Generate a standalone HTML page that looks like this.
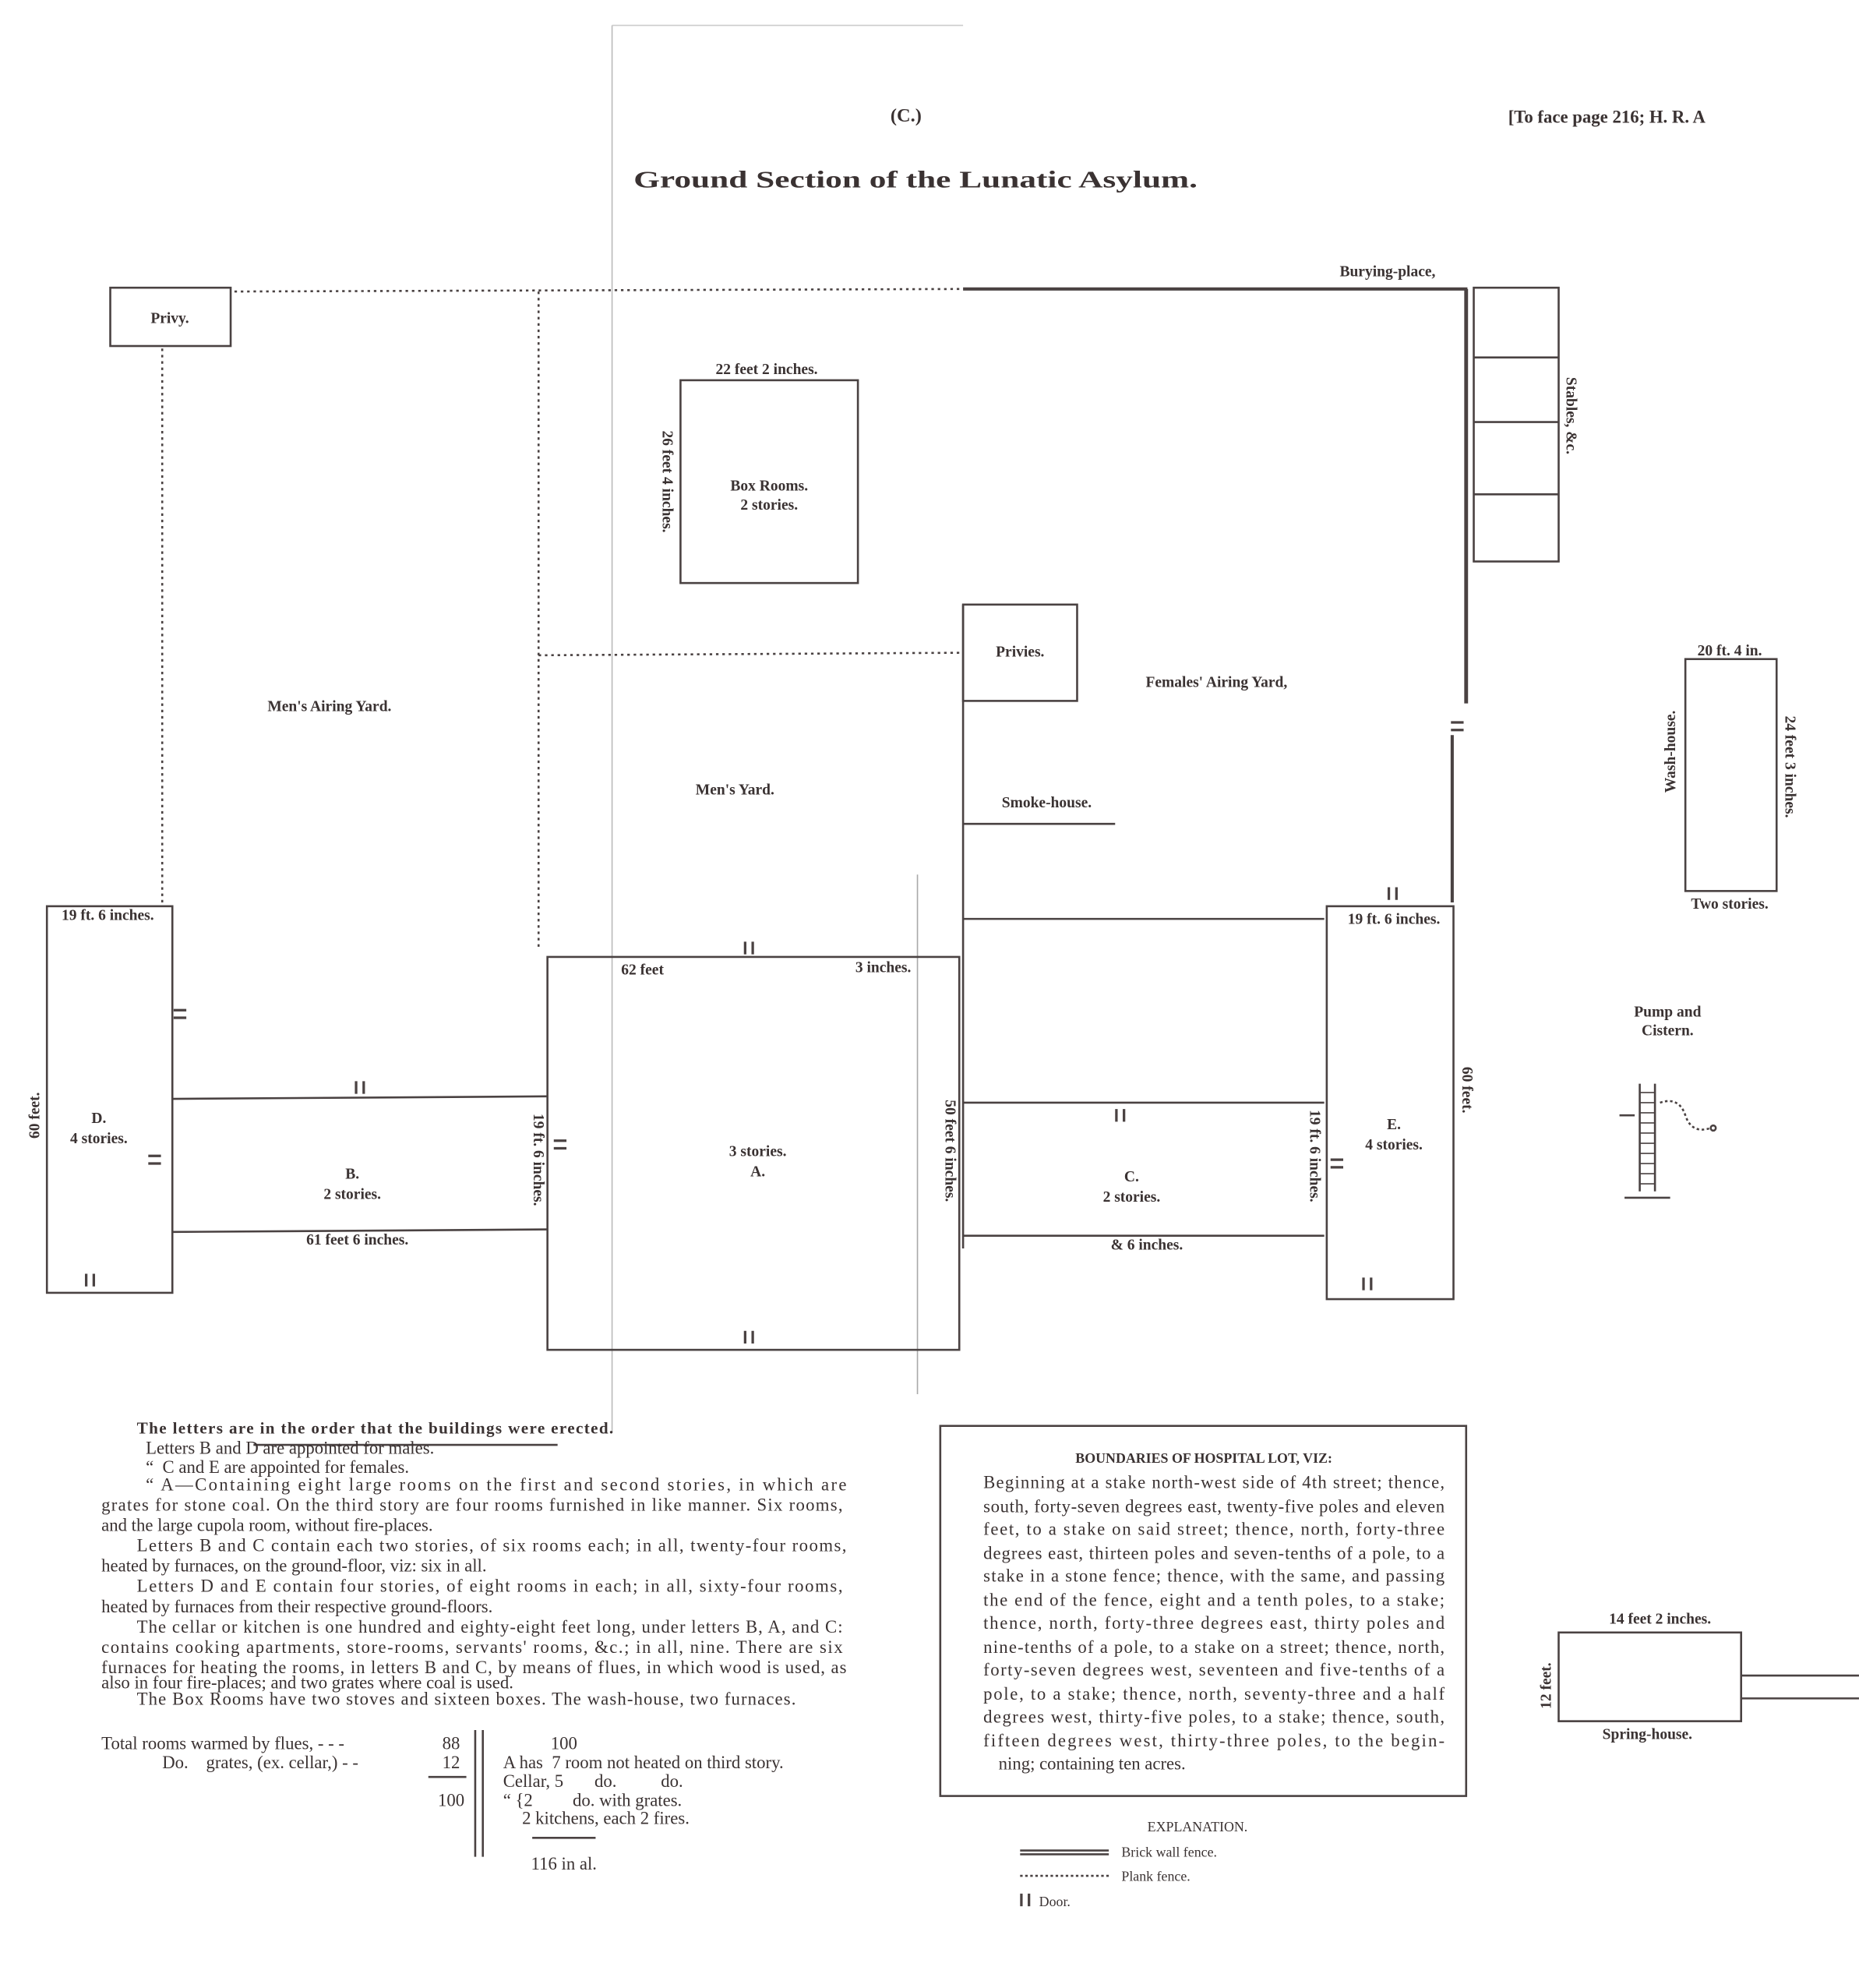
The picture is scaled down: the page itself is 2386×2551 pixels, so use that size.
<!DOCTYPE html>
<html><head><meta charset="utf-8"><style>
html,body{margin:0;padding:0;background:#fff;}
svg{display:block;}
text{font-family:"Liberation Serif",serif;fill:#3a3232;}
.b{font-weight:bold;font-size:12px;}
.p{font-size:14px;}
</style></head><body>
<svg width="2386" height="2551" viewBox="0 0 1467 1568.5" xmlns="http://www.w3.org/2000/svg">
<rect width="1467" height="1569" fill="#fff"/>
<g stroke="#4a4242" fill="none" stroke-width="1.6">
<line x1="483" y1="20" x2="483" y2="1130" stroke="#bbb" stroke-width="1"/>
<line x1="483" y1="20" x2="760" y2="20" stroke="#ccc" stroke-width="1"/>
<line x1="724" y1="690" x2="724" y2="1100" stroke="#aaa" stroke-width="1"/>
<line x1="185" y1="230" x2="760" y2="228" stroke-dasharray="2,3"/>
<line x1="760" y1="228" x2="1158" y2="228" stroke-width="2.5"/>
<rect x="87" y="227" width="95" height="46"/>
<line x1="128" y1="275" x2="128" y2="715" stroke-dasharray="2,3"/>
<line x1="425" y1="230" x2="425" y2="750" stroke-dasharray="2,3"/>
<line x1="425" y1="517" x2="760" y2="515" stroke-dasharray="2,3"/>
<rect x="537" y="300" width="140" height="160"/>
<line x1="1157" y1="228" x2="1157" y2="555" stroke-width="3"/>
<line x1="1146" y1="580" x2="1146" y2="712" stroke-width="2.5"/>
<rect x="1163" y="227" width="67" height="216"/>
<line x1="1163" y1="282" x2="1230" y2="282"/>
<line x1="1163" y1="333" x2="1230" y2="333"/>
<line x1="1163" y1="390" x2="1230" y2="390"/>
<rect x="760" y="477" width="90" height="76"/>
<line x1="760" y1="650" x2="880" y2="650"/>
<line x1="760" y1="725" x2="1045" y2="725"/>
<line x1="760" y1="477" x2="760" y2="985"/>
<rect x="432" y="755" width="325" height="310"/>
<rect x="37" y="715" width="99" height="305"/>
<line x1="136" y1="867" x2="432" y2="865"/>
<line x1="136" y1="972" x2="432" y2="970"/>
<line x1="760" y1="870" x2="1045" y2="870"/>
<line x1="760" y1="975" x2="1045" y2="975"/>
<rect x="1047" y="715" width="100" height="310"/>
<rect x="1330" y="520" width="72" height="183"/>
<rect x="1230" y="1288" width="144" height="70"/>
<line x1="1374" y1="1322" x2="1467" y2="1322"/>
<line x1="1374" y1="1340" x2="1467" y2="1340"/>
<rect x="742" y="1125" width="415" height="292"/>
<line x1="1294" y1="855" x2="1294" y2="940"/>
<line x1="1306" y1="855" x2="1306" y2="940"/>
<path d="M1294 862h12M1294 870h12M1294 878h12M1294 886h12M1294 894h12M1294 902h12M1294 910h12M1294 918h12M1294 926h12M1294 934h12" stroke-width="1"/>
<line x1="1282" y1="945" x2="1318" y2="945"/>
<path d="M1310 870 q15 -5 20 10 t20 10" stroke-dasharray="2,2"/>
<circle cx="1352" cy="890" r="2"/>
<line x1="1278" y1="880" x2="1290" y2="880"/>
<line x1="338" y1="1402" x2="368" y2="1402"/>
<line x1="375" y1="1365" x2="375" y2="1465"/>
<line x1="381" y1="1365" x2="381" y2="1465"/>
<line x1="420" y1="1450" x2="470" y2="1450"/>
<line x1="200" y1="1140" x2="440" y2="1140"/>
<line x1="805" y1="1460" x2="875" y2="1460"/>
<line x1="805" y1="1463" x2="875" y2="1463"/>
<line x1="805" y1="1480" x2="875" y2="1480" stroke-dasharray="2,2"/>
</g>
<g stroke="#4a4242" stroke-width="2">
<path d="M588 743v10M594 743v10M588 1050v10M594 1050v10M281 853v10M287 853v10M68 1005v10M74 1005v10M1076 1008v10M1082 1008v10M1096 700v10M1102 700v10M881 875v10M887 875v10M806 1494v10M812 1494v10"/>
<path d="M137 797h10M137 803h10M117 912h10M117 918h10M437 900h10M437 906h10M1050 915h10M1050 921h10M1145 570h10M1145 576h10"/>
</g>
<g class="b">
<text x="715" y="96" text-anchor="middle" font-size="15">(C.)</text>
<text x="1268" y="97" text-anchor="middle" font-size="14">[To face page 216; H. R. A</text>
<text x="500" y="148" font-size="19" textLength="445" lengthAdjust="spacingAndGlyphs">Ground Section of the Lunatic Asylum.</text>
<text x="1095" y="218" text-anchor="middle">Burying-place,</text>
<text x="134" y="255" text-anchor="middle">Privy.</text>
<text x="605" y="295" text-anchor="middle">22 feet 2 inches.</text>
<text transform="translate(523,380) rotate(90)" text-anchor="middle">26 feet 4 inches.</text>
<text x="607" y="387" text-anchor="middle">Box Rooms.</text>
<text x="607" y="402" text-anchor="middle">2 stories.</text>
<text transform="translate(1236,328) rotate(90)" text-anchor="middle">Stables, &amp;c.</text>
<text x="805" y="518" text-anchor="middle">Privies.</text>
<text x="960" y="542" text-anchor="middle">Females' Airing Yard,</text>
<text x="260" y="561" text-anchor="middle">Men's Airing Yard.</text>
<text x="580" y="627" text-anchor="middle">Men's Yard.</text>
<text x="826" y="637" text-anchor="middle">Smoke-house.</text>
<text x="85" y="726" text-anchor="middle">19 ft. 6 inches.</text>
<text x="507" y="769" text-anchor="middle">62 feet</text>
<text x="697" y="767" text-anchor="middle">3 inches.</text>
<text transform="translate(746,908) rotate(90)" text-anchor="middle">50 feet 6 inches.</text>
<text transform="translate(421,915) rotate(90)" text-anchor="middle">19 ft. 6 inches.</text>
<text transform="translate(1034,912) rotate(90)" text-anchor="middle">19 ft. 6 inches.</text>
<text transform="translate(1154,860) rotate(90)" text-anchor="middle">60 feet.</text>
<text transform="translate(31,880) rotate(-90)" text-anchor="middle">60 feet.</text>
<text x="598" y="912" text-anchor="middle">3 stories.</text>
<text x="598" y="928" text-anchor="middle">A.</text>
<text x="78" y="886" text-anchor="middle">D.</text>
<text x="78" y="902" text-anchor="middle">4 stories.</text>
<text x="278" y="930" text-anchor="middle">B.</text>
<text x="278" y="946" text-anchor="middle">2 stories.</text>
<text x="282" y="982" text-anchor="middle">61 feet 6 inches.</text>
<text x="893" y="932" text-anchor="middle">C.</text>
<text x="893" y="948" text-anchor="middle">2 stories.</text>
<text x="905" y="986" text-anchor="middle">&amp; 6 inches.</text>
<text x="1100" y="729" text-anchor="middle">19 ft. 6 inches.</text>
<text x="1100" y="891" text-anchor="middle">E.</text>
<text x="1100" y="907" text-anchor="middle">4 stories.</text>
<text x="1365" y="517" text-anchor="middle">20 ft. 4 in.</text>
<text transform="translate(1409,605) rotate(90)" text-anchor="middle">24 feet 3 inches.</text>
<text transform="translate(1322,593) rotate(-90)" text-anchor="middle">Wash-house.</text>
<text x="1365" y="717" text-anchor="middle">Two stories.</text>
<text x="1316" y="802" text-anchor="middle">Pump and</text>
<text x="1316" y="817" text-anchor="middle">Cistern.</text>
<text x="1310" y="1281" text-anchor="middle">14 feet 2 inches.</text>
<text transform="translate(1224,1330) rotate(-90)" text-anchor="middle">12 feet.</text>
<text x="1300" y="1372" text-anchor="middle">Spring-house.</text>
<text x="950" y="1154" text-anchor="middle" font-size="11">BOUNDARIES OF HOSPITAL LOT, VIZ:</text>
<text x="108" y="1131" font-size="13" textLength="376" lengthAdjust="spacing">The letters are in the order that the buildings were erected.</text>
</g>
<g class="p">
<text x="115" y="1147">Letters B and D are appointed for males.</text>
<text x="115" y="1162">“ &#160;C and E are appointed for females.</text>
<text x="115" y="1176" textLength="553" lengthAdjust="spacing">“ A—Containing eight large rooms on the first and second stories, in which are</text>
<text x="80" y="1192" textLength="585" lengthAdjust="spacing">grates for stone coal. On the third story are four rooms furnished in like manner. Six rooms,</text>
<text x="80" y="1208">and the large cupola room, without fire-places.</text>
<text x="108" y="1224" textLength="560" lengthAdjust="spacing">Letters B and C contain each two stories, of six rooms each; in all, twenty-four rooms,</text>
<text x="80" y="1240">heated by furnaces, on the ground-floor, viz: six in all.</text>
<text x="108" y="1256" textLength="557" lengthAdjust="spacing">Letters D and E contain four stories, of eight rooms in each; in all, sixty-four rooms,</text>
<text x="80" y="1272">heated by furnaces from their respective ground-floors.</text>
<text x="108" y="1288" textLength="557" lengthAdjust="spacing">The cellar or kitchen is one hundred and eighty-eight feet long, under letters B, A, and C:</text>
<text x="80" y="1304" textLength="585" lengthAdjust="spacing">contains cooking apartments, store-rooms, servants' rooms, &amp;c.; in all, nine. There are six</text>
<text x="80" y="1320" textLength="588" lengthAdjust="spacing">furnaces for heating the rooms, in letters B and C, by means of flues, in which wood is used, as</text>
<text x="80" y="1332">also in four fire-places; and two grates where coal is used.</text>
<text x="108" y="1345" textLength="520" lengthAdjust="spacing">The Box Rooms have two stoves and sixteen boxes. The wash-house, two furnaces.</text>
<text x="80" y="1380">Total rooms warmed by flues, - - -</text><text x="356" y="1380" text-anchor="middle">88</text>
<text x="128" y="1395">Do. &#160;&#160;&#160;grates, (ex. cellar,) - -</text><text x="356" y="1395" text-anchor="middle">12</text>
<text x="356" y="1425" text-anchor="middle">100</text>
<text x="445" y="1380" text-anchor="middle">100</text>
<text x="397" y="1395">A has &#160;7 room not heated on third story.</text>
<text x="397" y="1410">Cellar, 5 &#160;&#160;&#160;&#160;&#160; do. &#160;&#160;&#160;&#160;&#160;&#160;&#160;&#160; do.</text>
<text x="397" y="1425">“ {2 &#160;&#160;&#160;&#160;&#160;&#160;&#160; do. with grates.</text>
<text x="412" y="1439">2 kitchens, each 2 fires.</text>
<text x="445" y="1475" text-anchor="middle">116 in al.</text>
<text x="776" y="1174" textLength="364" lengthAdjust="spacing">Beginning at a stake north-west side of 4th street; thence,</text>
<text x="776" y="1193" textLength="364" lengthAdjust="spacing">south, forty-seven degrees east, twenty-five poles and eleven</text>
<text x="776" y="1211" textLength="364" lengthAdjust="spacing">feet, to a stake on said street; thence, north, forty-three</text>
<text x="776" y="1230" textLength="364" lengthAdjust="spacing">degrees east, thirteen poles and seven-tenths of a pole, to a</text>
<text x="776" y="1248" textLength="364" lengthAdjust="spacing">stake in a stone fence; thence, with the same, and passing</text>
<text x="776" y="1267" textLength="364" lengthAdjust="spacing">the end of the fence, eight and a tenth poles, to a stake;</text>
<text x="776" y="1285" textLength="364" lengthAdjust="spacing">thence, north, forty-three degrees east, thirty poles and</text>
<text x="776" y="1304" textLength="364" lengthAdjust="spacing">nine-tenths of a pole, to a stake on a street; thence, north,</text>
<text x="776" y="1322" textLength="364" lengthAdjust="spacing">forty-seven degrees west, seventeen and five-tenths of a</text>
<text x="776" y="1341" textLength="364" lengthAdjust="spacing">pole, to a stake; thence, north, seventy-three and a half</text>
<text x="776" y="1359" textLength="364" lengthAdjust="spacing">degrees west, thirty-five poles, to a stake; thence, south,</text>
<text x="776" y="1378" textLength="364" lengthAdjust="spacing">fifteen degrees west, thirty-three poles, to the begin-</text>
<text x="788" y="1396">ning; containing ten acres.</text>
<text x="945" y="1445" text-anchor="middle" font-size="11">EXPLANATION.</text>
<text x="885" y="1465" font-size="11">Brick wall fence.</text>
<text x="885" y="1484" font-size="11">Plank fence.</text>
<text x="820" y="1504" font-size="11">Door.</text>
</g>
</svg>
</body></html>
